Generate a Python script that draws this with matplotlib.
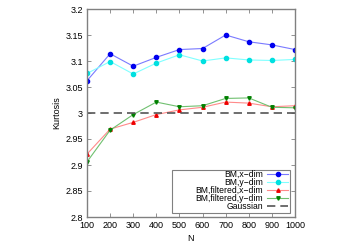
import matplotlib
matplotlib.use("Agg")
import matplotlib.pyplot as plt
from matplotlib.patches import Rectangle

N = [100, 200, 300, 400, 500, 600, 700, 800, 900, 1000]
bm_x = [3.062, 3.114, 3.090, 3.107, 3.122, 3.124, 3.150, 3.137, 3.131, 3.122]
bm_y = [3.076, 3.099, 3.075, 3.096, 3.112, 3.100, 3.106, 3.102, 3.101, 3.103]
bmf_x = [2.921, 2.969, 2.982, 2.997, 3.006, 3.011, 3.021, 3.019, 3.012, 3.014]
bmf_y = [2.906, 2.967, 2.997, 3.021, 3.012, 3.014, 3.028, 3.029, 3.011, 3.010]
gauss = 3.0

plt.rcParams['font.family'] = ['Liberation Sans', 'DejaVu Sans']
fig = plt.figure(figsize=(3.5, 2.45), dpi=100)
ax = fig.add_axes([87/350, 1-217/245, (295-87)/350, (217-9)/245])

ax.plot(N, bm_x, color='#7a7aff', lw=0.8, marker='o', ms=3, mfc='#0000ee', mec='#0000ee', label='BM,x\u2212dim')
ax.plot(N, bm_y, color='#80ffff', lw=0.8, marker='o', ms=3, mfc='#00e0e0', mec='#00e0e0', label='BM,y\u2212dim')
ax.plot(N, bmf_x, color='#ff8a8a', lw=0.8, marker='^', ms=2.5, mfc='#ee0000', mec='#ee0000', label='BM,filtered,x\u2212dim')
ax.plot(N, bmf_y, color='#70c070', lw=0.8, marker='v', ms=2.5, mfc='#008000', mec='#008000', label='BM,filtered,y\u2212dim')
ax.axhline(gauss, color='#555555', lw=1.2, ls=(0, (5, 3)), label='Gaussian')

ax.set_xlim(100, 1000)
ax.set_ylim(2.8, 3.2)
ax.set_xticks(N)
ax.set_yticks([2.8, 2.85, 2.9, 2.95, 3.0, 3.05, 3.1, 3.15, 3.2])
ax.set_yticklabels(['2.8', '2.85', '2.9', '2.95', '3', '3.05', '3.1', '3.15', '3.2'])
ax.tick_params(direction='in', top=True, right=True, labelsize=6.5, length=3, width=0.6, color='#808080', pad=3)
for s in ax.spines.values():
    s.set_color('#808080')
    s.set_linewidth(1.0)
ax.set_xlabel('N', fontsize=6.5, labelpad=3)
ax.set_ylabel('Kurtosis', fontsize=6.5, labelpad=3)

# legend box (gnuplot style, wider than its text)
x0, x1 = (172 - 87) / 208, (290 - 87) / 208
y0, y1 = (217 - 213) / 208, (217 - 170) / 208
ax.add_patch(Rectangle((x0, y0), x1 - x0, y1 - y0, transform=ax.transAxes,
                       facecolor='white', edgecolor='#808080', lw=0.8, zorder=4))
leg = ax.legend(loc='lower right', bbox_to_anchor=(x1, y0), fontsize=6.2, markerfirst=False,
                frameon=False, borderpad=0.25, labelspacing=-0.12, handlelength=2.4,
                handletextpad=0.5, borderaxespad=0.0)
leg.set_zorder(5)
fig.savefig('out.png', dpi=100)
